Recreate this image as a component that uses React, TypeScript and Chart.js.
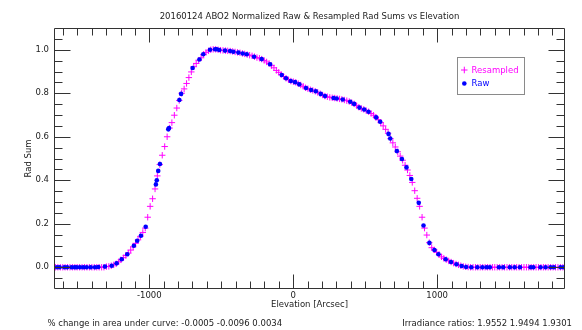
import React, { useEffect, useRef } from "react";
import { Chart, registerables } from "chart.js";
Chart.register(...registerables);

const TITLE = "20160124 ABO2 Normalized Raw & Resampled Rad Sums vs Elevation";
const X_TITLE = "Elevation [Arcsec]";
const Y_TITLE = "Rad Sum";
const NOTE_LEFT = "% change in area under curve: -0.0005 -0.0096 0.0034";
const NOTE_RIGHT = "Irradiance ratios: 1.9552 1.9494 1.9301";
const LEGEND_LABELS = ["Resampled", "Raw"];

const X_MIN = -1662;
const X_MAX = 1888;
const Y_MIN = -0.1;
const Y_MAX = 1.1;
const X_TICKS = [-1000, 0, 1000];
const Y_TICKS = [0, 0.2, 0.4, 0.6, 0.8, 1.0];
const X_MINOR = 100;
const Y_MINOR = 0.05;

const RAW_X = [
  -1641, -1623, -1590, -1571, -1541, -1520, -1505, -1482, -1459, -1435, -1407, -1377, -1354,
  -1308, -1261, -1227, -1192, -1153, -1107, -1084, -1058, -1025,
  -954, -948, -938, -926,
  -868, -863, -791, -779,
  -699, -652, -625, -578, -543, -531, -513,
  -474, -439, -416, -381, -351, -323, -272, -219, -161,
  -80, -50, -17, 13, 42, 89, 124, 157, 191, 221,
  280, 302, 344, 396, 423, 460, 493, 523,
  576, 604, 662, 674, 720, 755, 787, 820,
  872, 905, 946, 981, 1009, 1059, 1096, 1134, 1170, 1201,
  1237, 1279, 1314, 1343, 1366, 1429, 1459, 1505, 1538, 1575, 1649, 1668, 1718, 1753, 1788, 1811, 1857, 1880,
];
const RAW_Y = [
  0, 0, 0, 0, 0, 0, 0, 0, 0, 0, 0, 0, 0.001,
  0.003, 0.007, 0.018, 0.037, 0.06, 0.099, 0.122, 0.145, 0.186,
  0.381, 0.4, 0.443, 0.475,
  0.634, 0.64, 0.769, 0.797,
  0.916, 0.955, 0.979, 1.0, 1.002, 1.002, 0.999,
  0.996, 0.994, 0.991, 0.987, 0.983, 0.979, 0.968, 0.957, 0.933,
  0.884, 0.869, 0.856, 0.851, 0.841, 0.824, 0.815, 0.809, 0.797, 0.787,
  0.778, 0.776, 0.771, 0.761, 0.751, 0.734, 0.725, 0.715,
  0.689, 0.669, 0.613, 0.592, 0.534, 0.498, 0.459, 0.406,
  0.296, 0.192, 0.112, 0.079, 0.06, 0.037, 0.024, 0.014, 0.006, 0.001,
  0, 0, 0, 0, 0, 0, 0, 0, 0, 0, 0, 0, 0, 0, 0, 0, 0, 0,
];

const RES_X = [
  -1652, -1635, -1618, -1601, -1585, -1568, -1551, -1534, -1517, -1501,
  -1484, -1467, -1450, -1433, -1416, -1399, -1382, -1365, -1348, -1331,
  -1315, -1298, -1281, -1264, -1247, -1230, -1213, -1197, -1180, -1163,
  -1146, -1129, -1112, -1095, -1078, -1062, -1045, -1028, -1011, -994,
  -977, -960, -944, -927, -910, -893, -876, -859, -843, -826,
  -809, -792, -775, -758, -741, -725, -708, -691, -674, -657,
  -640, -623, -606, -589, -573, -556, -539, -522, -505, -488,
  -471, -455, -438, -421, -404, -387, -370, -353, -337, -320,
  -303, -286, -269, -252, -235, -219, -202, -185, -168, -151,
  -134, -117, -101, -84, -67, -50, -33, -16, 1, 18,
  35, 52, 69, 85, 102, 119, 136, 153, 170, 187,
  204, 220, 237, 254, 271, 288, 305, 322, 338, 355,
  372, 389, 406, 423, 440, 456, 473, 490, 507, 524,
  541, 558, 574, 591, 608, 625, 642, 659, 676, 692,
  709, 726, 743, 760, 777, 794, 810, 827, 844, 861,
  878, 895, 912, 928, 945, 962, 979, 996, 1013, 1030,
  1046, 1063, 1080, 1097, 1114, 1131, 1148, 1164, 1181, 1198,
  1215, 1232, 1249, 1266, 1282, 1299, 1316, 1333, 1350, 1367,
  1384, 1400, 1417, 1434, 1451, 1468, 1485, 1502, 1518, 1535,
  1552, 1569, 1586, 1603, 1620, 1636, 1653, 1670, 1687, 1704,
  1721, 1738, 1754, 1771, 1788, 1805, 1822, 1839, 1856, 1873,
];
const RES_Y = [
  0, 0, 0, 0, 0, 0, 0, 0, 0, 0,
  0, 0, 0, 0, 0, 0, 0, 0, 0, 0,
  0, 0.003, 0.004, 0.007, 0.011, 0.016, 0.025, 0.034, 0.044, 0.054,
  0.065, 0.079, 0.094, 0.11, 0.126, 0.142, 0.16, 0.18, 0.23, 0.28,
  0.315, 0.36, 0.42, 0.472, 0.515, 0.555, 0.6, 0.64, 0.665, 0.699,
  0.732, 0.767, 0.8, 0.82, 0.845, 0.872, 0.898, 0.922, 0.937, 0.952,
  0.963, 0.979, 0.988, 0.995, 1.0, 1.002, 1.002, 1.0, 0.998, 0.997,
  0.996, 0.995, 0.994, 0.992, 0.99, 0.988, 0.986, 0.983, 0.981, 0.978,
  0.975, 0.972, 0.968, 0.964, 0.961, 0.957, 0.951, 0.944, 0.937, 0.927,
  0.917, 0.905, 0.896, 0.886, 0.877, 0.869, 0.862, 0.856, 0.853, 0.85,
  0.844, 0.838, 0.832, 0.825, 0.821, 0.816, 0.813, 0.809, 0.804, 0.798,
  0.792, 0.787, 0.784, 0.781, 0.779, 0.778, 0.776, 0.774, 0.772, 0.769,
  0.766, 0.762, 0.757, 0.751, 0.743, 0.736, 0.73, 0.726, 0.72, 0.715,
  0.707, 0.699, 0.69, 0.678, 0.665, 0.65, 0.634, 0.616, 0.591, 0.572,
  0.553, 0.531, 0.511, 0.492, 0.469, 0.447, 0.422, 0.39, 0.352, 0.317,
  0.28, 0.23, 0.18, 0.148, 0.113, 0.09, 0.08, 0.069, 0.058, 0.048,
  0.041, 0.035, 0.029, 0.024, 0.019, 0.015, 0.011, 0.007, 0.004, 0.002,
  0.001, 0, 0, 0, 0, 0, 0, 0, 0, 0,
  0, 0, 0, 0, 0, 0, 0, 0, 0, 0,
  0, 0, 0, 0, 0, 0, 0, 0, 0, 0,
  0, 0, 0, 0, 0, 0, 0, 0, 0, 0,
];

const FONT = '"DejaVu Sans", sans-serif';
const FONT_SIZE = 8.5;
const TEXT_COLOR = "#222222";
const AXIS_COLOR = "#333333";
const RAW_COLOR = "#0000ff";
const RES_COLOR = "#ff00ff";

function pairs(xs: number[], ys: number[]) {
  const n = Math.min(xs.length, ys.length);
  const out: { x: number; y: number }[] = [];
  for (let i = 0; i < n; i++) out.push({ x: xs[i], y: ys[i] });
  return out;
}

const decorPlugin = {
  id: "decor",
  afterDraw(chart: any) {
    const { ctx, chartArea: a } = chart;
    const xs = chart.scales.x;
    const ys = chart.scales.y;
    const L = a.left + 0.5;
    const R = a.right - 0.5;
    const T = a.top + 0.5;
    const B = a.bottom - 0.5;
    ctx.save();
    ctx.strokeStyle = AXIS_COLOR;
    ctx.lineWidth = 1;
    ctx.beginPath();
    ctx.rect(L, T, R - L, B - T);
    for (let v = Math.ceil(X_MIN / X_MINOR) * X_MINOR; v < X_MAX; v += X_MINOR) {
      const px = Math.round(xs.getPixelForValue(v)) + 0.5;
      const len = X_TICKS.includes(v) ? 14 : 7;
      ctx.moveTo(px, B);
      ctx.lineTo(px, B - len);
      ctx.moveTo(px, T);
      ctx.lineTo(px, T + len);
    }
    for (let k = Math.ceil(Y_MIN / Y_MINOR); k * Y_MINOR <= Y_MAX + 1e-9; k++) {
      const v = k * Y_MINOR;
      if (v <= Y_MIN + 1e-6 || v >= Y_MAX - 1e-6) continue;
      const py = Math.round(ys.getPixelForValue(v)) + 0.5;
      const major = Y_TICKS.some((t) => Math.abs(t - v) < 1e-6);
      const len = major ? 16 : 8;
      ctx.moveTo(L, py);
      ctx.lineTo(L + len, py);
      ctx.moveTo(R, py);
      ctx.lineTo(R - len, py);
    }
    ctx.stroke();

    ctx.font = `${FONT_SIZE}px ${FONT}`;
    ctx.fillStyle = TEXT_COLOR;
    ctx.textBaseline = "alphabetic";
    const cx = (a.left + a.right) / 2;
    ctx.textAlign = "center";
    ctx.fillText(TITLE, cx, 18.5);
    ctx.fillText(X_TITLE, cx, 306.5);
    ctx.textAlign = "left";
    ctx.fillText(NOTE_LEFT, 47.5, 325.5);
    ctx.textAlign = "right";
    ctx.fillText(NOTE_RIGHT, 572, 325.5);

    ctx.save();
    ctx.translate(29, (a.top + a.bottom) / 2);
    ctx.rotate(-Math.PI / 2);
    ctx.textAlign = "center";
    ctx.textBaseline = "middle";
    ctx.fillText(Y_TITLE, 0, 0);
    ctx.restore();

    // legend
    ctx.strokeStyle = "#8a8a8a";
    ctx.lineWidth = 1;
    ctx.strokeRect(457.5, 57.5, 67, 37);
    ctx.textAlign = "left";
    ctx.textBaseline = "middle";
    // resampled entry
    ctx.strokeStyle = RES_COLOR;
    ctx.beginPath();
    ctx.moveTo(461, 70);
    ctx.lineTo(467.5, 70);
    ctx.moveTo(464.3, 66.7);
    ctx.lineTo(464.3, 73.3);
    ctx.stroke();
    ctx.fillStyle = RES_COLOR;
    ctx.fillText(LEGEND_LABELS[0], 471.5, 70.5);
    // raw entry
    ctx.fillStyle = RAW_COLOR;
    ctx.beginPath();
    ctx.arc(464.3, 83.5, 2.3, 0, Math.PI * 2);
    ctx.fill();
    ctx.fillText(LEGEND_LABELS[1], 471.5, 84);
    ctx.restore();
  },
};

export default function App() {
  const ref = useRef<HTMLCanvasElement>(null);
  useEffect(() => {
    document.body.style.margin = "0";
    Chart.defaults.font.family = FONT;
    Chart.defaults.font.size = FONT_SIZE;
    Chart.defaults.color = TEXT_COLOR;
    const chart = new Chart(ref.current as HTMLCanvasElement, {
      type: "scatter",
      data: {
        datasets: [
          {
            label: LEGEND_LABELS[1],
            data: pairs(RAW_X, RAW_Y),
            pointStyle: "circle",
            pointRadius: 2.3,
            pointBorderWidth: 0,
            pointBackgroundColor: RAW_COLOR,
            backgroundColor: RAW_COLOR,
            borderColor: RAW_COLOR,
            showLine: false,
          },
          {
            label: LEGEND_LABELS[0],
            data: pairs(RES_X, RES_Y),
            pointStyle: "cross",
            pointRadius: 3.2,
            pointBorderWidth: 1,
            pointBorderColor: RES_COLOR,
            borderColor: RES_COLOR,
            backgroundColor: RES_COLOR,
            showLine: false,
          },
        ],
      },
      options: {
        responsive: false,
        animation: false,
        devicePixelRatio: 1,
        layout: { padding: { top: 28, right: 17, bottom: 0, left: 0 } },
        plugins: { legend: { display: false }, title: { display: false }, tooltip: { enabled: false } },
        events: [],
        scales: {
          x: {
            type: "linear",
            min: X_MIN,
            max: X_MAX,
            grid: { display: false, drawTicks: false },
            border: { display: false },
            afterBuildTicks: (s: any) => {
              s.ticks = X_TICKS.map((v) => ({ value: v }));
            },
            afterFit: (s: any) => {
              s.height = 41;
            },
            ticks: {
              autoSkip: false,
              maxRotation: 0,
              padding: 2,
              color: TEXT_COLOR,
              callback: (v: any) => String(v),
            },
          },
          y: {
            type: "linear",
            min: Y_MIN,
            max: Y_MAX,
            grid: { display: false, drawTicks: false },
            border: { display: false },
            afterBuildTicks: (s: any) => {
              s.ticks = Y_TICKS.map((v) => ({ value: v }));
            },
            afterFit: (s: any) => {
              s.width = 54;
            },
            ticks: {
              autoSkip: false,
              padding: 5,
              color: TEXT_COLOR,
              callback: (v: any) => Number(v).toFixed(1),
            },
          },
        },
      },
      plugins: [decorPlugin],
    } as any);
    return () => chart.destroy();
  }, []);
  return (
    <div style={{ width: 582, height: 330 }}>
      <canvas ref={ref} width={582} height={330} style={{ display: "block", width: 582, height: 330 }} />
    </div>
  );
}
